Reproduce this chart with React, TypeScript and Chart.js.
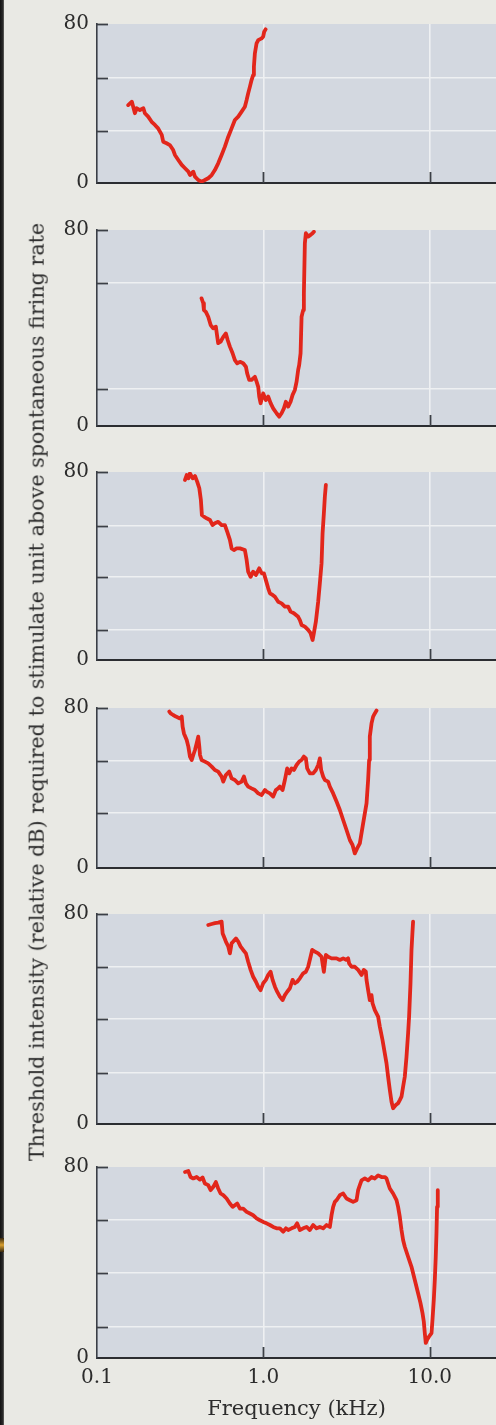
import React, { useEffect, useRef } from "react";
import { Chart, registerables } from "chart.js";

Chart.register(...registerables);

// ---------- data (frequency in kHz, threshold in relative dB) ----------
const p1Freq = [0.154, 0.162, 0.165, 0.169, 0.173, 0.181, 0.19, 0.194, 0.203, 0.213, 0.223, 0.233, 0.245, 0.25, 0.262, 0.274, 0.287, 0.294, 0.308, 0.323, 0.338, 0.354, 0.362, 0.379, 0.388, 0.406, 0.425, 0.445, 0.466, 0.489, 0.511, 0.535, 0.561, 0.587, 0.615, 0.644, 0.674, 0.706, 0.74, 0.774, 0.793, 0.81, 0.83, 0.849, 0.868, 0.877, 0.889, 0.91, 0.931, 0.976, 0.997, 1.011, 1.031];
const p1Db = [39.2, 40.9, 38.4, 35.1, 37.6, 36.7, 37.6, 35.1, 33.4, 30.8, 29.2, 27.5, 24.2, 20.8, 20.0, 19.1, 16.6, 14.1, 11.6, 9.1, 7.4, 5.7, 4.0, 5.7, 3.2, 1.5, 0.7, 1.5, 2.4, 4.0, 6.5, 9.9, 14.1, 18.3, 23.3, 27.5, 31.7, 33.4, 35.9, 38.4, 41.8, 45.1, 48.5, 51.8, 54.3, 58.5, 65.3, 70.3, 71.9, 72.8, 73.6, 76.1, 77.3];

const p2Freq = [0.425, 0.435, 0.439, 0.451, 0.466, 0.482, 0.499, 0.518, 0.528, 0.535, 0.553, 0.574, 0.595, 0.61, 0.629, 0.653, 0.674, 0.696, 0.723, 0.756, 0.785, 0.799, 0.822, 0.849, 0.889, 0.91, 0.931, 0.944, 0.962, 0.997, 1.035, 1.069, 1.105, 1.145, 1.2, 1.244, 1.286, 1.328, 1.365, 1.409, 1.457, 1.498, 1.546, 1.583, 1.618, 1.641, 1.673, 1.696, 1.734, 1.751, 1.775, 1.8, 1.858, 1.921, 1.975, 2.011];
const p2Db = [52.1, 50.1, 47.3, 46.6, 44.6, 41.2, 39.9, 40.5, 36.4, 33.8, 34.4, 36.4, 37.8, 35.1, 32.4, 29.7, 26.9, 25.6, 26.2, 25.6, 24.2, 21.5, 18.8, 18.8, 20.1, 18.1, 16.0, 12.0, 9.3, 13.3, 10.6, 12.0, 9.3, 7.2, 5.2, 3.8, 5.2, 7.2, 9.9, 7.9, 9.9, 12.7, 14.7, 18.1, 22.9, 24.9, 29.7, 44.6, 47.3, 54.1, 74.6, 78.7, 77.3, 78.0, 78.7, 79.3];

const p3Freq = [0.338, 0.346, 0.354, 0.362, 0.376, 0.388, 0.4, 0.412, 0.421, 0.427, 0.439, 0.456, 0.477, 0.495, 0.511, 0.535, 0.561, 0.587, 0.606, 0.629, 0.644, 0.665, 0.69, 0.723, 0.774, 0.793, 0.81, 0.838, 0.868, 0.902, 0.944, 0.976, 1.007, 1.035, 1.069, 1.094, 1.136, 1.173, 1.227, 1.286, 1.346, 1.409, 1.457, 1.525, 1.618, 1.657, 1.696, 1.775, 1.858, 1.921, 1.975, 2.011, 2.067, 2.134, 2.184, 2.236, 2.268, 2.309, 2.341, 2.374];
const p3Db = [76.6, 78.7, 77.3, 79.4, 77.3, 78.3, 75.9, 73.1, 68.1, 61.7, 61.0, 60.3, 59.6, 57.4, 58.2, 58.8, 57.4, 57.4, 54.6, 51.1, 47.5, 46.8, 47.5, 47.5, 46.8, 42.6, 37.6, 35.4, 37.6, 36.2, 39.0, 36.9, 36.9, 34.0, 30.5, 28.4, 27.7, 26.9, 24.8, 24.1, 22.7, 22.7, 20.6, 19.9, 18.4, 17.0, 14.9, 14.2, 12.8, 11.4, 8.5, 11.4, 16.3, 24.8, 32.6, 41.1, 53.9, 62.4, 69.5, 74.5];

const p4Freq = [0.272, 0.277, 0.287, 0.298, 0.315, 0.323, 0.327, 0.333, 0.346, 0.354, 0.362, 0.371, 0.379, 0.388, 0.397, 0.406, 0.412, 0.416, 0.425, 0.445, 0.466, 0.489, 0.511, 0.535, 0.561, 0.574, 0.595, 0.623, 0.644, 0.674, 0.706, 0.74, 0.764, 0.785, 0.81, 0.849, 0.889, 0.931, 0.976, 1.021, 1.045, 1.094, 1.145, 1.189, 1.227, 1.256, 1.304, 1.346, 1.39, 1.429, 1.477, 1.525, 1.583, 1.641, 1.696, 1.751, 1.8, 1.833, 1.902, 1.991, 2.067, 2.134, 2.184, 2.224, 2.287, 2.341, 2.45, 2.508, 2.626, 2.752, 2.881, 3.016, 3.16, 3.307, 3.433, 3.544, 3.659, 3.798, 3.976, 4.167, 4.26, 4.32, 4.361, 4.465, 4.565, 4.673, 4.786];
const p4Db = [78.2, 77.3, 76.5, 75.7, 74.8, 75.7, 70.7, 67.3, 64.0, 60.7, 55.7, 54.0, 56.5, 59.0, 62.3, 65.7, 60.7, 56.5, 54.0, 53.2, 52.3, 50.7, 49.0, 48.2, 45.7, 43.2, 46.5, 48.2, 44.8, 44.0, 42.3, 43.2, 45.7, 42.3, 40.7, 39.8, 39.0, 37.3, 36.5, 39.0, 38.2, 37.3, 35.7, 39.0, 39.8, 40.7, 39.0, 44.0, 49.8, 47.3, 49.8, 49.0, 51.5, 53.2, 54.0, 55.7, 54.8, 49.8, 47.3, 47.3, 49.0, 51.5, 54.8, 49.0, 45.7, 44.0, 43.2, 40.7, 37.3, 33.2, 29.0, 24.0, 19.0, 14.0, 11.5, 7.3, 9.8, 12.3, 22.3, 32.3, 44.0, 54.0, 65.7, 72.3, 75.7, 77.3, 78.7];

const p5Freq = [0.466, 0.489, 0.511, 0.535, 0.561, 0.569, 0.579, 0.595, 0.615, 0.629, 0.644, 0.659, 0.684, 0.706, 0.73, 0.756, 0.785, 0.81, 0.838, 0.868, 0.902, 0.931, 0.962, 0.997, 1.035, 1.069, 1.105, 1.136, 1.173, 1.21, 1.256, 1.304, 1.346, 1.39, 1.443, 1.498, 1.546, 1.596, 1.657, 1.734, 1.8, 1.858, 1.921, 1.964, 2.039, 2.134, 2.236, 2.309, 2.374, 2.45, 2.568, 2.752, 2.881, 3.016, 3.16, 3.23, 3.275, 3.386, 3.544, 3.71, 3.889, 4.015, 4.127, 4.167, 4.26, 4.361, 4.465, 4.528, 4.673, 4.893, 5.008, 5.198, 5.366, 5.494, 5.617, 5.751, 5.888, 6.02, 6.249, 6.45, 6.604, 6.761, 6.912, 7.076, 7.245, 7.407, 7.51, 7.657, 7.764, 7.872, 7.937];
const p5Db = [75.8, 76.2, 76.5, 76.7, 77.1, 72.6, 71.4, 69.5, 67.6, 65.0, 68.8, 69.5, 70.7, 69.5, 67.6, 66.3, 65.0, 61.8, 58.7, 56.1, 54.2, 52.3, 51.0, 53.6, 54.9, 56.8, 58.0, 54.9, 52.3, 50.4, 48.5, 47.2, 49.1, 50.4, 51.7, 54.9, 53.6, 54.2, 55.5, 57.4, 58.0, 59.9, 63.7, 66.3, 65.7, 65.0, 63.7, 58.0, 64.4, 63.7, 63.1, 63.1, 62.5, 63.1, 62.5, 63.1, 61.2, 59.9, 59.9, 58.7, 56.8, 58.7, 58.0, 54.9, 51.0, 47.2, 49.1, 46.0, 43.4, 40.9, 37.1, 32.0, 26.9, 23.1, 18.0, 13.0, 8.5, 6.0, 7.2, 7.9, 9.1, 10.4, 14.2, 18.0, 25.6, 34.5, 40.9, 53.6, 66.3, 73.3, 77.1];

const p6Freq = [0.338, 0.354, 0.365, 0.379, 0.397, 0.416, 0.431, 0.445, 0.466, 0.482, 0.499, 0.518, 0.535, 0.553, 0.574, 0.601, 0.629, 0.653, 0.674, 0.696, 0.723, 0.756, 0.793, 0.83, 0.868, 0.91, 0.953, 0.997, 1.045, 1.094, 1.145, 1.2, 1.256, 1.315, 1.365, 1.409, 1.477, 1.546, 1.596, 1.657, 1.734, 1.818, 1.902, 1.991, 2.087, 2.184, 2.287, 2.397, 2.508, 2.568, 2.626, 2.688, 2.752, 2.881, 3.016, 3.16, 3.307, 3.462, 3.629, 3.71, 3.798, 3.889, 4.071, 4.26, 4.465, 4.673, 4.893, 5.127, 5.366, 5.494, 5.617, 5.751, 6.02, 6.31, 6.45, 6.604, 6.761, 6.912, 7.076, 7.407, 7.764, 8.127, 8.506, 8.794, 9.041, 9.204, 9.333, 9.462, 9.634, 9.904, 10.24, 10.38, 10.57, 10.72, 10.86, 10.97, 11.06, 11.17];
const p6Db = [77.9, 78.3, 75.8, 75.2, 75.8, 74.7, 75.6, 73.1, 72.4, 70.3, 71.6, 73.7, 71.0, 68.9, 68.2, 66.8, 64.7, 63.3, 64.0, 64.7, 62.6, 62.6, 61.2, 60.5, 59.8, 58.5, 57.7, 57.0, 56.4, 55.7, 54.9, 54.3, 54.3, 52.9, 54.3, 53.6, 54.3, 54.9, 56.4, 53.6, 54.3, 54.9, 53.6, 55.7, 54.3, 54.9, 54.3, 55.7, 54.9, 59.8, 63.3, 65.4, 66.1, 68.2, 68.9, 66.8, 66.1, 65.4, 66.1, 70.3, 72.4, 74.4, 75.2, 74.4, 75.8, 75.2, 76.5, 75.8, 75.8, 75.2, 73.1, 71.0, 68.9, 66.1, 63.3, 59.1, 53.6, 49.4, 46.6, 42.4, 38.2, 32.7, 27.1, 23.0, 18.8, 15.3, 10.4, 6.3, 7.6, 9.0, 10.4, 16.0, 24.3, 32.7, 42.4, 52.2, 63.3, 70.3];

// tick values / labels
const xTickValues = [0.1, 1, 10];
const xTickLabels = ["0.1", "1.0", "10.0"];
const yLabelValues = [0, 80];
// inner gridline levels per panel (dB)
const p1Grid = [26.2, 52.8];
const p2Grid = [15.1, 58.4];
const p3Grid = [12.8, 35.2, 57.1];
const p4Grid = [27.4, 53.7];
const p5Grid = [19.5, 40, 59.9];
const p6Grid = [13.1, 35.5, 57.7];

const xAxisTitle = "Frequency (kHz)";
const yAxisTitle =
  "Threshold intensity (relative dB) required to stimulate unit above spontaneous firing rate";

// ---------- styles ----------
const SERIF = "'DejaVu Serif', 'Liberation Serif', serif";
const PAGE_BG = "#e9e9e4";
const PLOT_BG = "#d3d8e0";
const GRID = "#eef0f2";
const AXIS = "#2b2d31";
const LEFT_AXIS = "#3a3e46";
const TICK = "#3b3f46";
const RED = "#e2261b";
const TXT = "#2c2c2c";

const PAGE_W = 496;
const PAGE_H = 1425;
const PAD = 24;
const LEFT = 97;

const panels = [
  { freq: p1Freq, db: p1Db, grid: p1Grid, top: 24, bottom: 183 },
  { freq: p2Freq, db: p2Db, grid: p2Grid, top: 230, bottom: 426 },
  { freq: p3Freq, db: p3Db, grid: p3Grid, top: 472, bottom: 660 },
  { freq: p4Freq, db: p4Db, grid: p4Grid, top: 708, bottom: 868 },
  { freq: p5Freq, db: p5Db, grid: p5Grid, top: 914, bottom: 1124 },
  { freq: p6Freq, db: p6Db, grid: p6Grid, top: 1167, bottom: 1358 },
];

const bgPlugin = {
  id: "plotBg",
  beforeDraw(chart: any) {
    const { ctx, chartArea } = chart;
    ctx.save();
    ctx.fillStyle = PLOT_BG;
    ctx.fillRect(
      chartArea.left,
      chartArea.top,
      chartArea.right - chartArea.left,
      chartArea.bottom - chartArea.top
    );
    ctx.restore();
  },
};

const innerTicksPlugin = {
  id: "innerTicks",
  afterDraw(chart: any) {
    const { ctx, chartArea, scales } = chart;
    const x = scales.x;
    const y = scales.y;
    ctx.save();
    ctx.strokeStyle = TICK;
    ctx.lineWidth = 1.8;
    y.ticks.forEach((t: any) => {
      if (t.value === 0) return;
      const py = Math.round(y.getPixelForValue(t.value)) + 0.5;
      ctx.beginPath();
      ctx.moveTo(chartArea.left, py);
      ctx.lineTo(chartArea.left + 11, py);
      ctx.stroke();
    });
    x.ticks.forEach((t: any) => {
      if (t.value <= xTickValues[0]) return;
      const px = Math.round(x.getPixelForValue(t.value)) + 0.5;
      ctx.beginPath();
      ctx.moveTo(px, chartArea.bottom);
      ctx.lineTo(px, chartArea.bottom - 11);
      ctx.stroke();
    });
    ctx.restore();
  },
};

function Panel(props: any) {
  const { freq, db, grid, top, bottom, last } = props;
  const ref = useRef<HTMLCanvasElement | null>(null);
  const canvasTop = top - PAD;
  const xH = last ? PAGE_H - bottom : PAD;
  const canvasH = bottom - top + PAD + xH;

  useEffect(() => {
    if (!ref.current) return;
    const n = Math.min(freq.length, db.length);
    const pts = [] as any[];
    for (let i = 0; i < n; i++) pts.push({ x: freq[i], y: db[i] });
    const yTicks = [0, ...grid, 80];
    const chart = new Chart(ref.current, {
      type: "line",
      data: {
        datasets: [
          {
            data: pts,
            borderColor: RED,
            borderWidth: 3.8,
            pointRadius: 0,
            tension: 0,
            fill: false,
            borderJoinStyle: "round",
            borderCapStyle: "round",
          } as any,
        ],
      },
      options: {
        animation: false,
        responsive: false,
        devicePixelRatio: 1,
        layout: { padding: { top: PAD, left: 0, right: 0, bottom: 0 } },
        plugins: {
          legend: { display: false },
          tooltip: { enabled: false },
          title: { display: false },
        },
        scales: {
          x: {
            type: "logarithmic",
            min: 0.1,
            max: 25,
            afterBuildTicks: (s: any) => {
              s.ticks = xTickValues.map((v) => ({ value: v }));
            },
            afterFit: (s: any) => {
              s.height = xH;
            },
            ticks: {
              display: !!last,
              autoSkip: false,
              maxRotation: 0,
              padding: 8,
              color: TXT,
              font: { family: SERIF, size: 20 },
              callback: (v: any) => {
                const i = xTickValues.findIndex((t) => Math.abs(t - Number(v)) < 1e-9);
                return i >= 0 ? xTickLabels[i] : "";
              },
            },
            grid: {
              color: (ctx: any) =>
                ctx.tick && ctx.tick.value > xTickValues[0] + 1e-9 ? GRID : "rgba(0,0,0,0)",
              lineWidth: 1.6,
              drawTicks: false,
            },
            border: { display: true, color: AXIS, width: 2 },
            title: {
              display: !!last,
              text: xAxisTitle,
              color: TXT,
              font: { family: SERIF, size: 21 },
              padding: { top: 0, bottom: 3 },
            },
          },
          y: {
            type: "linear",
            min: 0,
            max: 80,
            afterBuildTicks: (s: any) => {
              s.ticks = yTicks.map((v) => ({ value: v }));
            },
            afterFit: (s: any) => {
              s.width = LEFT;
            },
            ticks: {
              autoSkip: false,
              padding: 8,
              color: TXT,
              font: { family: SERIF, size: 20 },
              callback: (v: any) => (yLabelValues.includes(Number(v)) ? String(v) : ""),
            },
            grid: {
              color: (ctx: any) =>
                ctx.tick && !yLabelValues.includes(ctx.tick.value) ? GRID : "rgba(0,0,0,0)",
              lineWidth: 1.6,
              drawTicks: false,
            },
            border: { display: true, color: LEFT_AXIS, width: 1.6 },
          },
        },
      } as any,
      plugins: [bgPlugin, innerTicksPlugin],
    });
    return () => chart.destroy();
  }, []);

  return (
    <canvas
      ref={ref}
      width={PAGE_W}
      height={canvasH}
      style={{
        position: "absolute",
        left: 0,
        top: canvasTop,
        width: PAGE_W,
        height: canvasH,
      }}
    />
  );
}

export default function App() {
  return (
    <div
      style={{
        position: "absolute",
        left: 0,
        top: 0,
        width: PAGE_W,
        height: PAGE_H,
        overflow: "hidden",
        background: PAGE_BG,
      }}
    >
      <div
        style={{
          position: "absolute",
          left: 0,
          top: 0,
          width: 4,
          height: PAGE_H,
          background: "linear-gradient(to right, #111 0%, #2a2a2a 70%, #6a6a66 100%)",
        }}
      />
      <div
        style={{
          position: "absolute",
          left: 0,
          top: 1238,
          width: 4,
          height: 14,
          background: "linear-gradient(to bottom, #3a2a10, #d9a030, #3a2a10)",
        }}
      />
      {panels.map((p, i) => (
        <Panel key={i} {...p} last={i === panels.length - 1} />
      ))}
      <div
        style={{
          position: "absolute",
          left: 37,
          top: 692,
          transform: "translate(-50%, -50%) rotate(-90deg)",
          whiteSpace: "nowrap",
          fontFamily: SERIF,
          fontSize: 20.7,
          lineHeight: 1,
          color: TXT,
        }}
      >
        {yAxisTitle}
      </div>
    </div>
  );
}
